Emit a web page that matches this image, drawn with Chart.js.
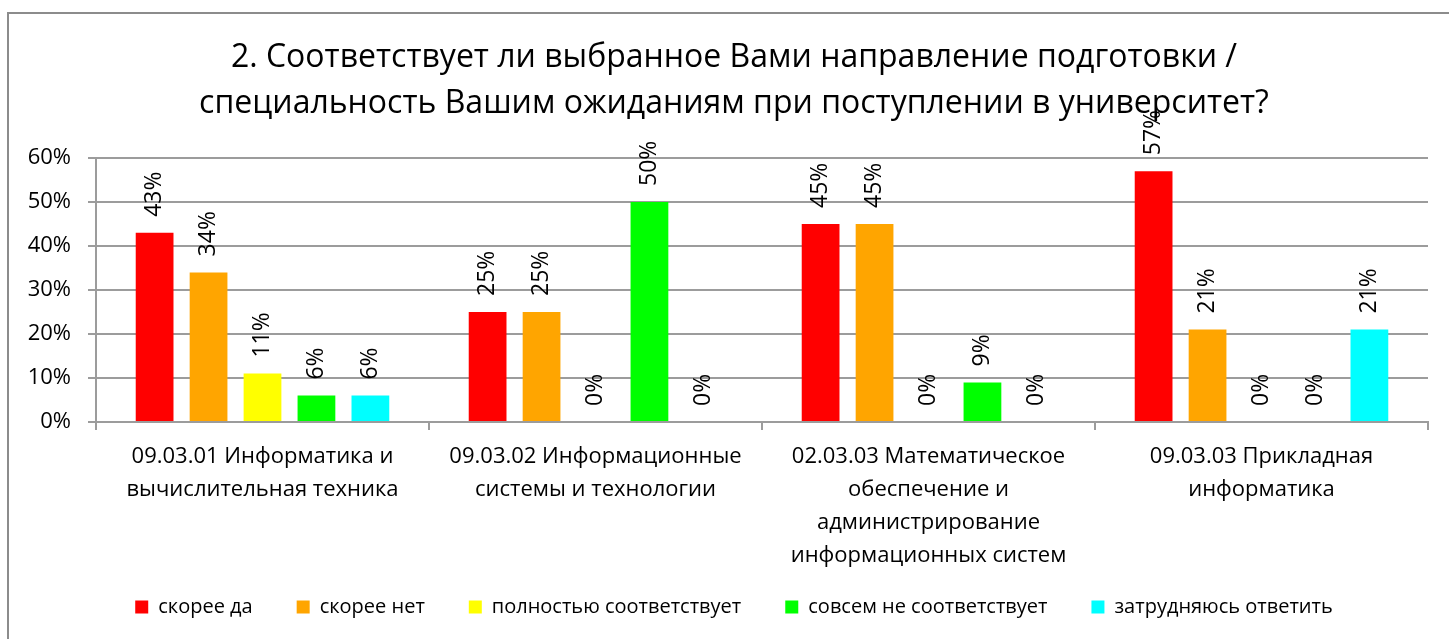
<!DOCTYPE html>
<html><head><meta charset="utf-8">
<script src="https://cdn.jsdelivr.net/npm/chart.js@4.4.1/dist/chart.umd.min.js"></script>
<style>
html,body{margin:0;padding:0;background:#fff;overflow:hidden;width:1449px;height:639px;}
#frame{position:absolute;left:7px;top:12px;width:1500px;height:700px;border-top:2px solid #8c8c8c;border-left:2px solid #8c8c8c;}
#wrap{position:absolute;left:8px;top:13px;width:1452px;height:626px;}
</style></head><body>
<div id="frame"></div>
<div id="wrap"><canvas id="c" width="1452" height="626"></canvas></div>
<script>
const titleLines = [
  '2. Соответствует ли выбранное Вами направление подготовки /',
  'специальность Вашим ожиданиям при поступлении в университет?'
];
const categories = [
  ['09.03.01 Информатика и', 'вычислительная техника'],
  ['09.03.02 Информационные', 'системы и технологии'],
  ['02.03.03 Математическое', 'обеспечение и', 'администрирование', 'информационных систем'],
  ['09.03.03 Прикладная', 'информатика']
];
const seriesNames = ['скорее да', 'скорее нет', 'полностью соответствует', 'совсем не соответствует', 'затрудняюсь ответить'];
const seriesColors = ['#FF0000', '#FFA500', '#FFFF00', '#00FF00', '#00FFFF'];
const skoreeDa     = [43, 25, 45, 57];
const skoreeNet    = [34, 25, 45, 21];
const polnostyu    = [11, 0, 0, 0];
const sovsemNe     = [6, 50, 9, 0];
const zatrudnyayus = [6, 0, 0, 21];
const yMin = 0, yMax = 60, yStep = 10;

const seriesValues = [skoreeDa, skoreeNet, polnostyu, sovsemNe, zatrudnyayus];
const FONT = '"Open Sans", "Noto Sans", sans-serif';
const GRID = '#9c9c9c';

const rotLabels = {
  id: 'rotLabels',
  afterDatasetsDraw(chart) {
    const ctx = chart.ctx;
    ctx.save();
    ctx.font = '23px ' + FONT;
    ctx.fillStyle = '#000';
    ctx.textAlign = 'left';
    ctx.textBaseline = 'middle';
    chart.data.datasets.forEach((ds, i) => {
      chart.getDatasetMeta(i).data.forEach((bar, j) => {
        ctx.save();
        ctx.translate(bar.x, bar.y - 16);
        ctx.rotate(-Math.PI / 2);
        ctx.fillText(ds.data[j] + '%', 0, 0);
        ctx.restore();
      });
    });
    ctx.restore();
  }
};

const noClip = () => undefined;

new Chart(document.getElementById('c'), {
  type: 'bar',
  data: {
    labels: categories,
    datasets: seriesNames.map((n, i) => ({
      label: n,
      data: seriesValues[i],
      backgroundColor: seriesColors[i],
      borderWidth: 0,
      categoryPercentage: 0.81,
      barPercentage: 0.7
    }))
  },
  options: {
    responsive: false,
    devicePixelRatio: 1,
    animation: false,
    layout: { padding: { left: 32, right: 32, top: 0, bottom: 12 } },
    plugins: {
      tooltip: { enabled: false },
      title: {
        display: true,
        text: titleLines,
        color: '#000',
        font: { family: FONT, size: 32, weight: 'normal', lineHeight: 46 / 32 },
        padding: { top: 22, bottom: 31 }
      },
      legend: {
        position: 'bottom',
        labels: {
          boxWidth: 13, boxHeight: 13, padding: 44, color: '#000',
          font: { family: FONT, size: 20 }
        }
      }
    },
    scales: {
      x: {
        grid: { offset: true, drawOnChartArea: false, drawTicks: true, tickLength: 8, color: GRID, lineWidth: 2 },
        border: { display: true, color: GRID, width: 2 },
        ticks: { color: '#000', autoSkip: false, maxRotation: 0, minRotation: 0, padding: 10,
                 font: { family: FONT, size: 22, lineHeight: 33 / 22 } },
        afterFit: s => { s.height = 131; s._computeLabelArea = noClip; }
      },
      y: {
        min: yMin, max: yMax,
        grid: { color: GRID, lineWidth: 2, tickLength: 8, drawTicks: true },
        border: { display: true, color: GRID, width: 2 },
        ticks: { stepSize: yStep, color: '#000', padding: 17, callback: v => v + '%',
                 font: { family: FONT, size: 22 } },
        afterFit: s => { s.width = 56; s._computeLabelArea = noClip; }
      }
    }
  },
  plugins: [rotLabels]
});
</script>
</body></html>
